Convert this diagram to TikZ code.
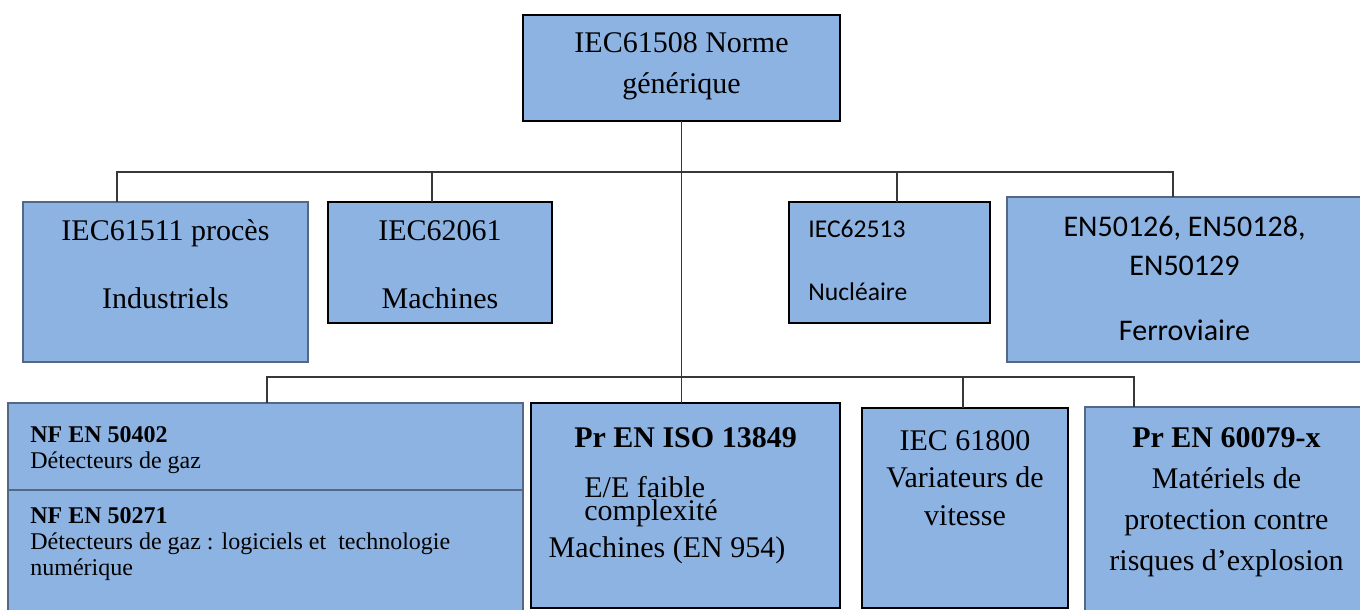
\documentclass[tikz,border=0pt]{standalone}
\usepackage{fontspec}
\setmainfont{Liberation Serif}
\newfontfamily\carlito{Carlito}
\usetikzlibrary{positioning}
\definecolor{boxblue}{RGB}{141,179,226}
\definecolor{boxedge}{RGB}{84,104,134}
\definecolor{wiregray}{RGB}{55,55,55}

\begin{document}
\begin{tikzpicture}[x=0.5pt,y=-0.5pt]
  \tikzstyle{box}=[draw=black,fill=boxblue,line width=1pt,inner sep=0pt,outer sep=0pt]
  \tikzstyle{pale}=[draw=boxedge]
  \tikzstyle{txt}=[inner sep=0pt,align=center,font=\fontsize{15}{20.5}\selectfont]
  \tikzstyle{small}=[inner sep=0pt,align=left,font=\fontsize{12}{13}\selectfont]
  \tikzstyle{wire}=[draw=wiregray,line width=0.8pt]
  \useasboundingbox (0,0) rectangle (1360,610);

  % generic standard
  \node[box,minimum width=158.5pt,minimum height=53pt] (gen) at (681.5,68) {};
  \node[txt,below=39.5pt of gen.north,anchor=base] (gen-t) {IEC61508 Norme\\générique};

  % sector standards (base = last line)
  \node[box,pale,minimum width=142.5pt,minimum height=80pt] (proc) at (165.5,282) {};
  \node[box,minimum width=112pt,minimum height=60.5pt] (mach) at (440,262.5) {};
  \node[box,minimum width=100.5pt,minimum height=60.5pt] (nucl) at (889.5,262.5) {};
  \node[box,pale,minimum width=177.5pt,minimum height=82.5pt] (ferro) at (1184.5,279.5) {};
  \node[txt,below=53pt of proc.north,anchor=base] (proc-t) {IEC61511 procès\\[13.5pt]Industriels};
  \node[txt,below=53pt of mach.north,anchor=base] (mach-t) {IEC62061\\[13.5pt]Machines};
  \node[txt,align=left,font=\carlito\fontsize{12.8}{31.5}\selectfont,
        below right=49pt and 9.5pt of nucl.north west,anchor=base west] (nucl-t) {IEC62513\\Nucléaire};
  \node[txt,font=\carlito\fontsize{15}{19.5}\selectfont,below=71.5pt of ferro.north,anchor=base] (ferro-t)
       {EN50126, EN50128,\\EN50129\\[13pt]Ferroviaire};

  % product standards
  \node[box,pale,minimum width=257.5pt,minimum height=43.5pt] (gazA) at (265.5,446.5) {};
  \node[box,pale,minimum width=257.5pt,minimum height=61pt,below=0pt of gazA] (gazB) {};
  \node[box,minimum width=154.5pt,minimum height=102.5pt] (iso) at (685.5,505.5) {};
  \node[box,minimum width=103pt,minimum height=100pt] (vari) at (965,508) {};
  \node[box,pale,minimum width=138.5pt,minimum height=102.5pt] (atex) at (1223.5,509.5) {};

  \node[small,below right=32.5pt and 11pt of gazA.north west,anchor=base west] (gazA-t)
       {\textbf{NF EN 50402}\\Détecteurs de gaz};
  \node[small,below right=42.5pt and 11pt of gazB.north west,anchor=base west] (gazB-t)
       {\textbf{NF EN 50271}\\Détecteurs de gaz : logiciels et\ \ technologie\\numérique};
  \node[txt,below=22pt of iso.north,anchor=base] (iso-t) {\textbf{Pr EN ISO 13849}};
  \node[txt,align=left,font=\fontsize{15}{11.5}\selectfont,
        below right=58.5pt and 26.5pt of iso.north west,anchor=base west] (iso-c) {E/E faible\\complexité};
  \node[txt,below left=77pt and 9.25pt of iso.north,anchor=base] (iso-m) {Machines (EN 954)};
  \node[txt,font=\fontsize{15}{18.75}\selectfont,below=58.5pt of vari.north,anchor=base] (vari-t)
       {IEC 61800\\Variateurs de\\vitesse};
  \node[txt,below right=81.5pt and 1.5pt of atex.north,anchor=base] (atex-t)
       {\textbf{Pr EN 60079-x}\\Matériels de\\protection contre\\risques d’explosion};

  % connectors
  \coordinate (bus1w) at (117,172);
  \coordinate (bus1e) at (1173,172);
  \coordinate (bus1a) at (432,172);
  \coordinate (bus1b) at (897,172);
  \coordinate (bus2w) at (267,377);
  \coordinate (bus2e) at (1134,377);
  \coordinate (bus2a) at (963,377);
  \draw[wire] (gen.south) -- (gen.south |- iso.north);
  \draw[wire] (proc.north -| bus1w) -- (bus1w) -- (bus1e) -- (ferro.north -| bus1e);
  \draw[wire] (bus1a) -- (mach.north -| bus1a);
  \draw[wire] (bus1b) -- (nucl.north -| bus1b);
  \draw[wire] (gazA.north -| bus2w) -- (bus2w) -- (bus2e) -- (atex.north -| bus2e);
  \draw[wire] (bus2a) -- (vari.north -| bus2a);
\end{tikzpicture}
\end{document}
